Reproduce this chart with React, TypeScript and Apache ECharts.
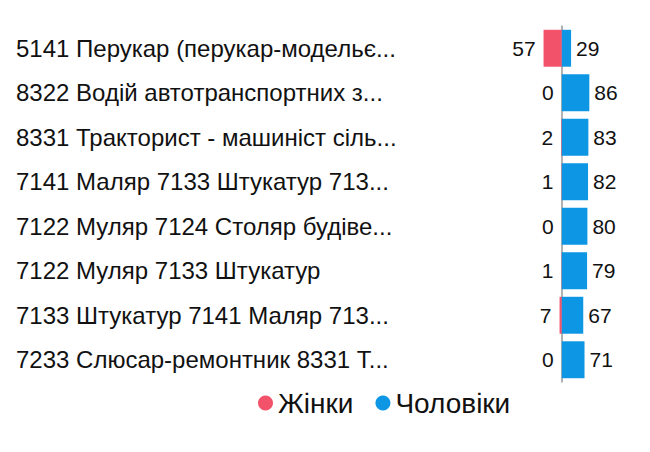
import React, { useEffect, useRef } from "react";
import * as echarts from "echarts";

const categories = [
  "5141 Перукар (перукар-модельє...",
  "8322 Водій автотранспортних з...",
  "8331 Тракторист - машиніст сіль...",
  "7141 Маляр 7133 Штукатур 713...",
  "7122 Муляр 7124 Столяр будіве...",
  "7122 Муляр 7133 Штукатур",
  "7133 Штукатур 7141 Маляр 713...",
  "7233 Слюсар-ремонтник 8331 Т...",
];
const women = [57, 0, 2, 1, 0, 1, 7, 0];
const men = [29, 86, 83, 82, 80, 79, 67, 71];
const seriesNames = ["Жінки", "Чоловіки"];

const FONT = "Liberation Sans, Arial, Helvetica, sans-serif";

export default function App() {
  const ref = useRef<HTMLDivElement>(null);
  useEffect(() => {
    if (!ref.current) return;
    const chart = echarts.init(ref.current, undefined, { renderer: "svg" });
    chart.setOption({
      animation: false,
      textStyle: { fontFamily: FONT },
      legend: {
        left: 245,
        top: 376,
        icon: "circle",
        itemWidth: 15,
        itemHeight: 15,
        itemGap: 22,
        textStyle: { fontSize: 28, color: "#111", fontFamily: FONT },
        data: seriesNames,
      },
      grid: { left: 525, right: 51.4, top: 18, bottom: 62, outerBoundsMode: "none" },
      xAxis: {
        type: "value",
        min: -90,
        max: 90,
        show: false,
      },
      yAxis: {
        type: "category",
        inverse: true,
        data: categories,
        axisTick: { show: false },
        axisLine: { show: true, onZero: true, lineStyle: { color: "#999", width: 1.5 } },
        axisLabel: {
          align: "left",
          margin: 517,
          fontSize: 24,
          color: "#111",
          fontFamily: FONT,
        },
      },
      series: [
        {
          name: seriesNames[0],
          type: "bar",
          stack: "total",
          barCategoryGap: "17%",
          itemStyle: { color: "#f2536a" },
          data: women.map((v) => -v),
          label: {
            show: true,
            position: "left",
            distance: 8,
            fontSize: 21,
            color: "#111",
            fontFamily: FONT,
            formatter: (p: any) => String(Math.abs(p.value)),
          },
        },
        {
          name: seriesNames[1],
          type: "bar",
          stack: "total",
          barCategoryGap: "17%",
          itemStyle: { color: "#0c96e4" },
          data: men,
          label: {
            show: true,
            position: "right",
            distance: 5,
            fontSize: 21,
            color: "#111",
            fontFamily: FONT,
          },
        },
      ],
    });
    return () => chart.dispose();
  }, []);
  return <div ref={ref} style={{ width: 634, height: 436 }} />;
}
